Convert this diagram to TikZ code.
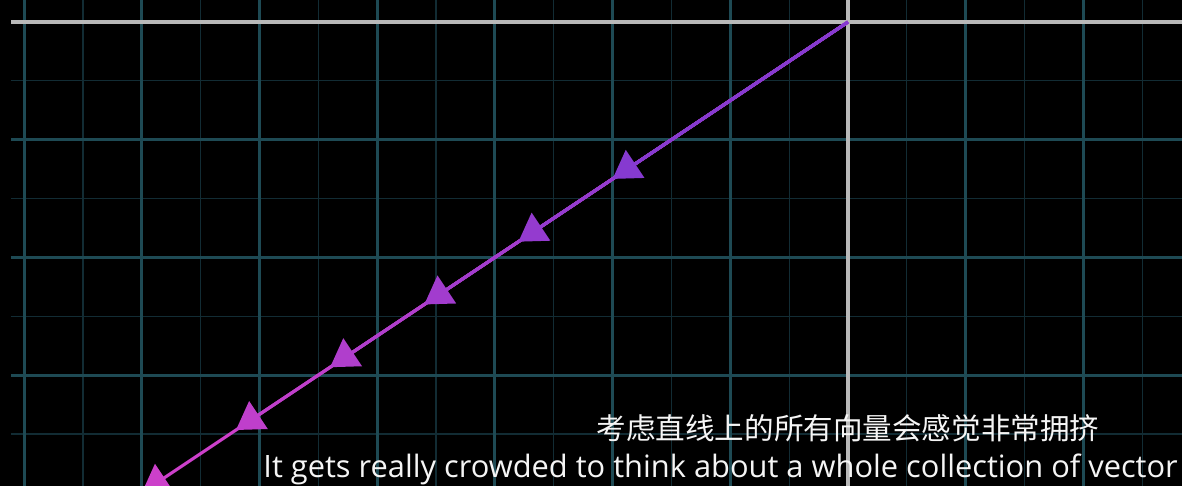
\documentclass[tikz,border=0pt]{standalone}
\usepackage{fontspec}
\setmainfont{Open Sans}
\newfontfamily\cjk{Noto Sans CJK SC}
\usepackage{xcolor}
\usepackage{tikz}
\usetikzlibrary{arrows.meta}
\definecolor{gridmajor}{RGB}{30, 74, 84}
\definecolor{gridminor}{RGB}{18, 44, 52}
\definecolor{axisgray}{RGB}{185, 185, 185}
\definecolor{vecpurple}{RGB}{134, 58, 208}
\definecolor{vecmagenta}{RGB}{204, 64, 202}
\colorlet{vecone}{vecpurple}
\colorlet{vectwo}{vecmagenta!20!vecpurple}
\colorlet{vecthree}{vecmagenta!40!vecpurple}
\colorlet{vecfour}{vecmagenta!60!vecpurple}
\colorlet{vecfive}{vecmagenta!82!vecpurple}
\colorlet{vecsix}{vecmagenta}
\tikzstyle{minorline} = [
    draw=gridminor,
    line width=0.6pt
]
\tikzstyle{majorline} = [
    draw=gridmajor,
    line width=1.4pt
]
\tikzstyle{axisline} = [
    draw=axisgray,
    line width=1.5pt
]
\tikzstyle{vector} = [
    line width=1.5pt,
    -{Triangle[length=0.46cm, width=0.56cm]}
]
\tikzstyle{subtitle} = [
    text=white!96!black,
    inner sep=0pt,
    font=\fontsize{14.9}{18}\selectfont
]

\begin{document}
\begin{tikzpicture}[x=2cm, y=2cm]
        % Frame
        \fill[black] (-7.205,-3.942) rectangle (2.838,0.187);
        \useasboundingbox (-7.205,-3.942) rectangle (2.838,0.187);

        % Grid
        \draw[minorline] (-7.111,-3.942) grid[step=0.5] (2.838,0.187);
        \draw[majorline] (-7.111,-3.942) grid[step=1] (2.838,0.187);

        % Axes
        \draw[axisline] (-7.111,0) -- (2.838,0);
        \draw[axisline] (0,-3.942) -- (0,0.187);

        % Vectors on the line
        \coordinate (o) at (0,0);
        \coordinate (t1) at (-2.0,-1.3333);
        \coordinate (t2) at (-2.8,-1.8667);
        \coordinate (t3) at (-3.6,-2.4);
        \coordinate (t4) at (-4.4,-2.9333);
        \coordinate (t5) at (-5.2,-3.4667);
        \coordinate (t6) at (-6.0,-4.0);
        \draw[vector, color=vecsix] (o) -- (t6);
        \draw[vector, color=vecfive] (o) -- (t5);
        \draw[vector, color=vecfour] (o) -- (t4);
        \draw[vector, color=vecthree] (o) -- (t3);
        \draw[vector, color=vectwo] (o) -- (t2);
        \draw[vector, color=vecone] (o) -- (t1);

        % Subtitles
        \node[subtitle, font=\cjk\fontsize{14.3}{17}\selectfont] (zh) at (0,-3.449) {考虑直线上的所有向量会感觉非常拥挤};
        \node[subtitle, anchor=base west] (en) at (-4.970,-3.866) {It gets really crowded to think about a whole collection of vector};
    \end{tikzpicture}
\end{document}
